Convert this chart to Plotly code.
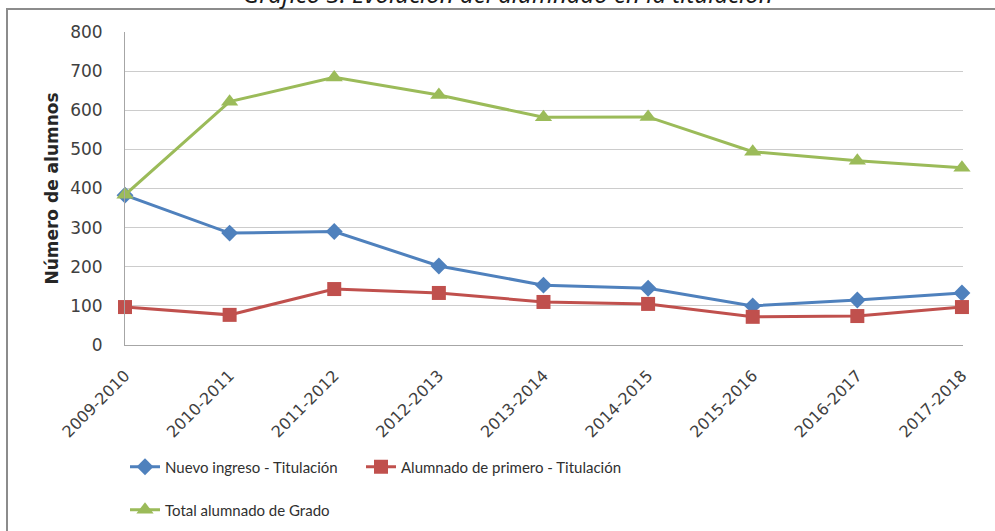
import plotly.graph_objects as go

categorias = ["2009-2010", "2010-2011", "2011-2012", "2012-2013", "2013-2014",
              "2014-2015", "2015-2016", "2016-2017", "2017-2018"]
nuevo_ingreso = [383, 286, 290, 202, 153, 145, 100, 115, 133]
alumnado_primero = [97, 77, 143, 133, 110, 105, 72, 74, 97]
total_grado = [384, 622, 684, 639, 582, 583, 494, 471, 453]

nombres = ["Nuevo ingreso - Titulación", "Alumnado de primero - Titulación", "Total alumnado de Grado"]
titulo = "Gráfico 3. Evolución del alumnado en la titulación"
titulo_y = "Número de alumnos"

W, H = 995, 531
ML, MR, MT, MB = 125, 32, 32, 186
pw = W - ML - MR
ph = H - MT - MB

def px_x(x):
    return (x - ML) / pw

def px_y(y):
    return (H - MB - y) / ph

fig = go.Figure()
fig.add_trace(go.Scatter(x=categorias, y=nuevo_ingreso, name=nombres[0], mode="lines+markers",
                         line=dict(color="#4F81BD", width=3),
                         marker=dict(symbol="diamond", size=13, color="#4F81BD"),
                         cliponaxis=False, legend="legend", showlegend=True))
fig.add_trace(go.Scatter(x=categorias, y=alumnado_primero, name=nombres[1], mode="lines+markers",
                         line=dict(color="#C0504D", width=3),
                         marker=dict(symbol="square", size=14, color="#C0504D"),
                         cliponaxis=False, legend="legend2", showlegend=True))
fig.add_trace(go.Scatter(x=categorias, y=total_grado, name=nombres[2], mode="lines+markers",
                         line=dict(color="#9BBB59", width=3),
                         marker=dict(symbol="triangle-up", size=15, color="#9BBB59"),
                         cliponaxis=False, legend="legend3", showlegend=True))

legend_font = dict(family="Lato", size=15, color="#303030")

def leg(xp, yp):
    return dict(orientation="h", xref="container", yref="container",
                x=xp / W, y=1 - yp / H, xanchor="left", yanchor="middle",
                font=legend_font, bgcolor="rgba(0,0,0,0)", visible=True)

fig.update_layout(
    width=W, height=H,
    showlegend=True,
    margin=dict(l=ML, r=MR, t=MT, b=MB),
    paper_bgcolor="white", plot_bgcolor="white",
    font=dict(family="DejaVu Sans", color="#404040"),
    xaxis=dict(type="category", range=[0, 8.01], showgrid=False, automargin=False,
               showline=True, linecolor="#A6A6A6", linewidth=1,
               ticks="", tickangle=-45, ticklabelstandoff=14,
               tickfont=dict(family="DejaVu Sans", size=16, color="#404040")),
    yaxis=dict(range=[0, 800], dtick=100, showgrid=True, gridcolor="#CCCCCC", gridwidth=1,
               showline=True, linecolor="#A6A6A6", linewidth=1, zeroline=False, automargin=False,
               ticks="", ticklabelstandoff=18,
               tickfont=dict(family="DejaVu Sans", size=17, color="#404040"),
               title=dict(text="<b>" + titulo_y + "</b>",
                          font=dict(family="DejaVu Sans", size=17, color="#262626"),
                          standoff=7)),
    legend=leg(125, 467),
    legend2=leg(361, 467),
    legend3=leg(125, 510),
    annotations=[dict(text="<i>" + titulo + "</i>", xref="paper", yref="paper",
                      x=px_x(508), y=px_y(-7), xanchor="center", yanchor="middle",
                      showarrow=False, font=dict(family="Noto Sans", size=24, color="#1a1a1a"))],
    shapes=[dict(type="rect", xref="paper", yref="paper",
                 x0=px_x(7), x1=px_x(1010), y0=px_y(560), y1=px_y(9),
                 line=dict(color="#8C8C8C", width=2), fillcolor="rgba(0,0,0,0)", layer="above")],
)

fig.write_html("out.html", config={"displayModeBar": False},
               post_script="document.body.style.margin='0';")
